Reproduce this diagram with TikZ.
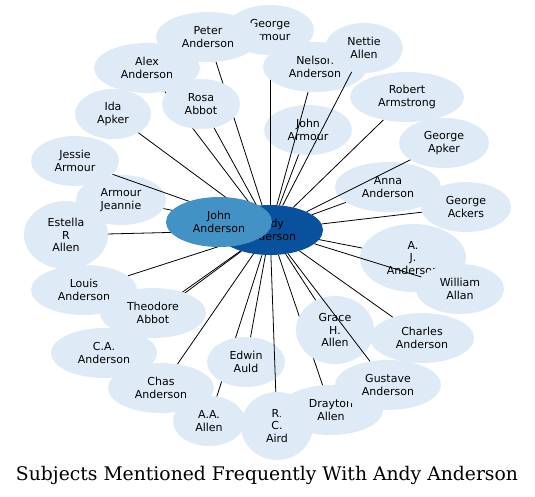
\documentclass[tikz,border=0pt]{standalone}
\usepackage{fontspec}
\usetikzlibrary{shapes.geometric}
\newfontfamily\nodef{DejaVu Sans}
\newfontfamily\titlef{DejaVu Serif}
\definecolor{lightb}{RGB}{222,235,247}
\definecolor{andyc}{RGB}{8,81,156}
\definecolor{johnc}{RGB}{66,146,198}
\tikzset{
  nd/.style={ellipse, fill=lightb, inner sep=0pt, align=center,
    font=\nodef\fontsize{11}{12.3}\selectfont, text=black},
  sz/.style 2 args={minimum width=#1pt, minimum height=#2pt},
  edge/.style={draw=black, line width=0.8pt},
}
\begin{document}
\begin{tikzpicture}[x=1pt,y=-1pt]
\useasboundingbox (0,0) rectangle (535,496);
\node[nd, sz={106}{50}, fill=andyc] (andy) at (270,230) {Andy\\Anderson};
\node[nd, sz={88}{50}] (jarmour) at (308,130) {John\\Armour};
\draw[edge] (andy) -- (jarmour);
\node[nd, sz={88}{50}] (garmour) at (270,30) {George\\Armour};
\draw[edge] (andy) -- (garmour);
\node[nd, sz={104}{50}] (peter) at (208,37) {Peter\\Anderson};
\draw[edge] (andy) -- (peter);
\node[nd, sz={104}{50}] (nelson) at (315,67) {Nelson\\Anderson};
\draw[edge] (andy) -- (nelson);
\node[nd, sz={78}{50}] (nettie) at (364,48) {Nettie\\Allen};
\draw[edge] (andy) -- (nettie);
\node[nd, sz={106}{50}] (alex) at (147,68) {Alex\\Anderson};
\draw[edge] (andy) -- (alex);
\node[nd, sz={78}{50}] (rosa) at (201,104) {Rosa\\Abbot};
\draw[edge] (andy) -- (rosa);
\node[nd, sz={76}{50}] (ida) at (113,114) {Ida\\Apker};
\draw[edge] (andy) -- (ida);
\node[nd, sz={114}{50}] (robert) at (407,97) {Robert\\Armstrong};
\draw[edge] (andy) -- (robert);
\node[nd, sz={106}{50}] (anna) at (388,187) {Anna\\Anderson};
\draw[edge] (andy) -- (anna);
\node[nd, sz={90}{50}] (gapker) at (444,143) {George\\Apker};
\draw[edge] (andy) -- (gapker);
\node[nd, sz={90}{50}] (gackers) at (466,207) {George\\Ackers};
\draw[edge] (andy) -- (gackers);
\node[nd, sz={106}{68}] (aj) at (413,258) {A.\\J.\\Anderson};
\draw[edge] (andy) -- (aj);
\node[nd, sz={88}{50}] (william) at (460,289) {William\\Allan};
\draw[edge] (andy) -- (william);
\node[nd, sz={90}{50}] (jeannie) at (121,200) {Armour\\Jeannie};
\draw[edge] (andy) -- (jeannie);
\node[nd, sz={88}{50}] (jessie) at (75,161) {Jessie\\Armour};
\draw[edge] (andy) -- (jessie);
\node[nd, sz={84}{68}] (estella) at (66,235) {Estella\\R\\Allen};
\draw[edge] (andy) -- (estella);
\node[nd, sz={106}{50}] (louis) at (84,290) {Louis\\Anderson};
\draw[edge] (andy) -- (louis);
\node[nd, sz={106}{50}] (ca) at (104,353) {C.A.\\Anderson};
\draw[edge] (andy) -- (ca);
\node[nd, sz={106}{50}] (theodore) at (153,313) {Theodore\\Abbot};
\draw[edge] (andy) -- (theodore);
\node[nd, sz={106}{50}] (chas) at (161,388) {Chas\\Anderson};
\draw[edge] (andy) -- (chas);
\node[nd, sz={72}{50}] (aa) at (209,421) {A.A.\\Allen};
\draw[edge] (andy) -- (aa);
\node[nd, sz={78}{50}] (edwin) at (246,362) {Edwin\\Auld};
\draw[edge] (andy) -- (edwin);
\node[nd, sz={72}{68}] (rc) at (277,426) {R.\\C.\\Aird};
\draw[edge] (andy) -- (rc);
\node[nd, sz={104}{50}] (drayton) at (331,410) {Drayton\\Allen};
\draw[edge] (andy) -- (drayton);
\node[nd, sz={78}{68}] (grace) at (335,330) {Grace\\H.\\Allen};
\draw[edge] (andy) -- (grace);
\node[nd, sz={106}{50}] (gustave) at (388,385) {Gustave\\Anderson};
\draw[edge] (andy) -- (gustave);
\node[nd, sz={104}{50}] (charles) at (422,338) {Charles\\Anderson};
\draw[edge] (andy) -- (charles);
\node[nd, sz={106}{50}, fill=johnc] (johnand) at (219,222) {John\\Anderson};
\node[anchor=base, inner sep=0pt] (title) at (267,480) {\resizebox{502pt}{!}{\titlef Subjects Mentioned Frequently With Andy Anderson}};
\end{tikzpicture}
\end{document}
